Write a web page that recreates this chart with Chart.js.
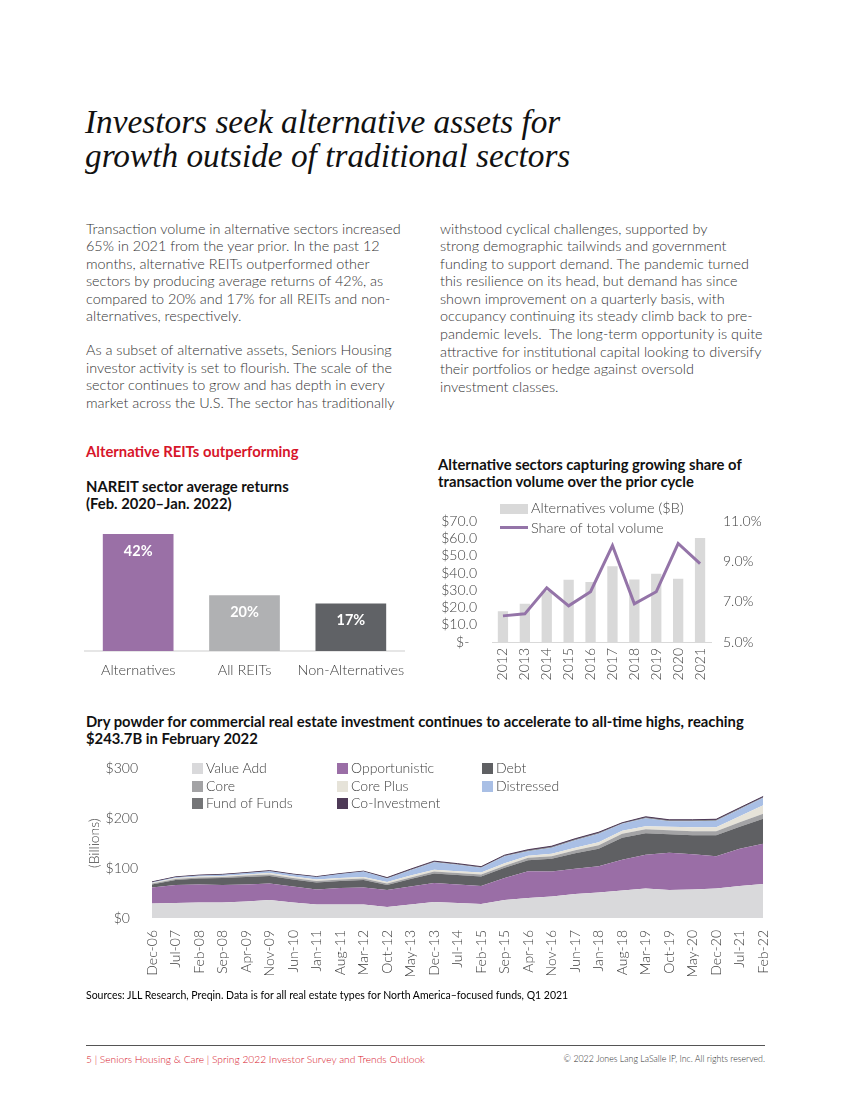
<!DOCTYPE html>
<html><head><meta charset="utf-8">
<script src="https://cdn.jsdelivr.net/npm/chart.js@4.4.1/dist/chart.umd.min.js"></script>
<style>
body{margin:0;background:#fff;}
#page{position:relative;width:850px;height:1100px;overflow:hidden;font-family:Lato,"Open Sans",sans-serif;color:#3a3a3a;background:#fff;}
.abs{position:absolute;white-space:nowrap;}
.title{font-family:"Liberation Serif",serif;font-style:italic;font-size:33.3px;line-height:33.5px;color:#111;}
.body{font-size:14.4px;line-height:17.6px;font-weight:300;color:#333;}
.h{font-weight:700;font-size:14.8px;line-height:17px;color:#111;}
.red{color:#d7152a;}
.leg{position:absolute;white-space:nowrap;font-size:14px;font-weight:300;color:#404040;line-height:17px;}
.box{display:inline-block;width:11px;height:11px;vertical-align:-1px;margin-right:3px;}
canvas{position:absolute;}
</style></head>
<body><div id="page">
<div class="abs title" style="left:85px;top:105px;">Investors seek alternative assets for<br>growth outside of traditional sectors</div>

<div class="abs body" style="left:86px;top:219.5px;">Transaction volume in alternative sectors increased<br>65% in 2021 from the year prior. In the past 12<br>months, alternative REITs outperformed other<br>sectors by producing average returns of 42%, as<br>compared to 20% and 17% for all REITs and non-<br>alternatives, respectively.</div>
<div class="abs body" style="left:86px;top:341.2px;">As a subset of alternative assets, Seniors Housing<br>investor activity is set to flourish. The scale of the<br>sector continues to grow and has depth in every<br>market across the U.S. The sector has traditionally</div>
<div class="abs body" style="left:440px;top:219.5px;">withstood cyclical challenges, supported by<br>strong demographic tailwinds and government<br>funding to support demand. The pandemic turned<br>this resilience on its head, but demand has since<br>shown improvement on a quarterly basis, with<br>occupancy continuing its steady climb back to pre-<br>pandemic levels.&nbsp; The long-term opportunity is quite<br>attractive for institutional capital looking to diversify<br>their portfolios or hedge against oversold<br>investment classes.</div>

<div class="abs h red" style="left:86px;top:442.5px;">Alternative REITs outperforming</div>
<div class="abs h" style="left:86px;top:477.5px;">NAREIT sector average returns<br>(Feb. 2020–Jan. 2022)</div>
<div class="abs h" style="left:438px;top:455.5px;">Alternative sectors capturing growing share of<br>transaction volume over the prior cycle</div>
<div class="abs h" style="left:86px;top:712.5px;">Dry powder for commercial real estate investment continues to accelerate to all-time highs, reaching<br>$243.7B in February 2022</div>

<canvas id="c1" width="330" height="170" style="left:80px;top:520px;width:330px;height:170px;"></canvas>
<canvas id="c2" width="340" height="197" style="left:436px;top:498px;width:340px;height:197px;"></canvas>
<div id="leg2"></div>
<canvas id="c3" width="706" height="244" style="left:86px;top:746px;width:706px;height:244px;"></canvas>
<div id="leg3"></div>

<div class="abs" style="left:86px;top:988px;font-size:10.5px;line-height:14px;color:#000;">Sources: JLL Research, Preqin. Data is for all real estate types for North America–focused funds, Q1 2021</div>
<div class="abs" style="left:86px;top:1045px;width:679px;height:1px;background:#555;"></div>
<div class="abs" style="left:86px;top:1053px;font-size:10.2px;line-height:12px;color:#d7152a;font-weight:300;">5 | Seniors Housing &amp; Care | Spring 2022 Investor Survey and Trends Outlook</div>
<div class="abs" style="right:85px;top:1053px;font-size:8.8px;line-height:12px;color:#333;font-weight:300;">© 2022 Jones Lang LaSalle IP, Inc. All rights reserved.</div>
</div>
<script>
// ---------- data ----------
const barCategories = ['Alternatives', 'All REITs', 'Non-Alternatives'];
const barValues = [42, 20, 17];

const volYears = ['2012','2013','2014','2015','2016','2017','2018','2019','2020','2021'];
const volValues = [17.8, 22.2, 29.4, 36.2, 34.8, 43.9, 36.3, 39.6, 36.7, 60.4];
const shareValues = [6.3, 6.4, 7.7, 6.8, 7.5, 9.8, 6.9, 7.5, 9.9, 8.9];
const volLeftTicks = [0, 10, 20, 30, 40, 50, 60, 70];
const volRightTicks = [5, 7, 9, 11];

const dpLabels = ['Dec-06','Jul-07','Feb-08','Sep-08','Apr-09','Nov-09','Jun-10','Jan-11','Aug-11','Mar-12','Oct-12','May-13','Dec-13','Jul-14','Feb-15','Sep-15','Apr-16','Nov-16','Jun-17','Jan-18','Aug-18','Mar-19','Oct-19','May-20','Dec-20','Jul-21','Feb-22'];
const valueAdd      = [29,30,31,31,33,36,31,27,27,27,22,27,32,30,28,36,40,43,48,51,55,59,56,57,59,64,68];
const opportunistic = [32,36,36,35,34,33,32,30,33,34,34,36,38,37,36,44,54,50,51,53,62,68,75,71,65,75,81];
const debt          = [6,10,12,14,15,15,14,14,14,15,10,15,19,19,19,21,22,26,31,35,44,43,37,38,42,44,50];
const core          = [2,2,2,2,3,3,3,3,3,3,3,3,4,4,4,4,5,5,6,7,8,8,8,8,8,9,10];
const corePlus      = [1.5,2,2,2,2,3,3,3,3,3,3,4,4,4,4,5,4,5,5,6,6,6,7,8,8,12,17];
const distressed    = [1,1.5,2,2.5,3,4,4,5,8,11,7,11,15,13,10,14,9,12,15,17,14,16,11,12,13,14,15];
const fundOfFunds   = [0.5,0.5,0.5,0.5,0.5,0.5,0.5,0.5,0.5,0.5,1,1,1,1,1,1,1.5,1.5,1.5,1.5,1,1.5,1.5,1.5,1.5,1.5,1.2];
const coInvestment  = [0.5,0.5,0.5,0.5,0.5,0.5,0.5,0.5,0.5,0.5,1,1,1,1,1,1,1.5,1.5,1.5,1.5,1,1.5,1.5,1.5,1.5,1.5,1.5];
const dpTicks = [0, 100, 200, 300];

// ---------- setup ----------
Chart.defaults.font.family = 'Lato, "Open Sans", sans-serif';
Chart.defaults.font.size = 14;
Chart.defaults.font.weight = 300;
Chart.defaults.color = '#404040';
Chart.defaults.animation = false;
Chart.defaults.responsive = false;
Chart.defaults.plugins.legend.display = false;
Chart.defaults.plugins.tooltip.enabled = false;

// Bar chart
const barLabelPlugin = {
  id: 'barLabels',
  afterDatasetsDraw(chart) {
    const ctx = chart.ctx;
    const meta = chart.getDatasetMeta(0);
    ctx.save();
    ctx.fillStyle = '#ffffff';
    ctx.font = '700 14.5px Lato, sans-serif';
    ctx.textAlign = 'center';
    ctx.textBaseline = 'middle';
    meta.data.forEach((el, i) => {
      ctx.fillText(chart.data.datasets[0].data[i] + '%', el.x, el.y + 17);
    });
    ctx.restore();
  }
};
new Chart(document.getElementById('c1'), {
  type: 'bar',
  data: { labels: barCategories, datasets: [{
    data: barValues,
    backgroundColor: ['#9a70a6', '#b0b1b3', '#606266'],
    barPercentage: 0.665, categoryPercentage: 1
  }]},
  options: {
    layout: { padding: { left: 5, right: 6, top: 0, bottom: 0 } },
    scales: {
      x: { grid: { display: false, drawTicks: true, tickLength: 11 }, border: { color: '#e6e6e6', width: 2 },
           ticks: { padding: 0, minRotation: 0, maxRotation: 0, autoSkip: false, color: '#404040', font: { size: 14.5, weight: 300 } },
           afterFit(s) { s.height = 39; } },
      y: { display: false, min: 0, max: 47 }
    }
  },
  plugins: [barLabelPlugin]
});

// Combo chart
const combo = new Chart(document.getElementById('c2'), {
  data: { labels: volYears, datasets: [
    { type: 'bar', label: 'Alternatives volume ($B)', data: volValues, yAxisID: 'y',
      backgroundColor: '#d9d9d9', barPercentage: 0.47, categoryPercentage: 1, order: 2 },
    { type: 'line', label: 'Share of total volume', data: shareValues, yAxisID: 'y2',
      borderColor: '#9474a8', borderWidth: 3, pointRadius: 0, tension: 0, order: 1 }
  ]},
  options: {
    layout: { padding: { left: 0, right: 0, top: 0, bottom: 0 } },
    scales: {
      x: { grid: { display: false, drawTicks: false }, border: { color: '#d9d9d9', width: 1 },
           ticks: { minRotation: 90, maxRotation: 90, padding: 6, autoSkip: false, font: { size: 14, weight: 300 } },
           afterFit(s) { s.height = 53; } },
      y: { position: 'left', min: 0, max: 70,
           grid: { display: false, drawTicks: false }, border: { display: false },
           afterBuildTicks(s) { s.ticks = volLeftTicks.map(v => ({ value: v })); },
           ticks: { padding: 15, autoSkip: false, font: { size: 14, weight: 300 },
             callback: v => v === 0 ? '$-  ' : '$' + v.toFixed(1) },
           afterFit(s) { s.width = 56; } },
      y2: { position: 'right', min: 5, max: 11,
           grid: { display: false, drawTicks: false }, border: { display: false },
           afterBuildTicks(s) { s.ticks = volRightTicks.map(v => ({ value: v })); },
           ticks: { padding: 12, autoSkip: false, font: { size: 14, weight: 300 },
             callback: v => v.toFixed(1) + '%' },
           afterFit(s) { s.width = 65; } }
    }
  }
});
(function(){
  const leg = document.getElementById('leg2');
  const ds = combo.data.datasets;
  const tops = [498.5, 518.5];
  ds.forEach((d, i) => {
    const el = document.createElement('div');
    el.className = 'leg';
    el.style.left = '500px';
    el.style.top = tops[i] + 'px';
    el.style.fontSize = '14.5px';
    const sw = d.type === 'bar'
      ? '<span style="display:inline-block;width:28px;height:10px;background:' + d.backgroundColor + ';vertical-align:-1px;margin-right:3px;"></span>'
      : '<span style="display:inline-block;width:28px;height:3px;background:' + d.borderColor + ';vertical-align:4px;margin-right:3px;"></span>';
    el.innerHTML = sw + d.label;
    leg.appendChild(el);
  });
})();

// Stacked area chart
const areaSeries = [
  ['Value Add', valueAdd, '#d9d9db'],
  ['Opportunistic', opportunistic, '#9a6ea6'],
  ['Debt', debt, '#5f6063'],
  ['Core', core, '#a3a3a5'],
  ['Core Plus', corePlus, '#e6e3d9'],
  ['Distressed', distressed, '#a9bfe5'],
  ['Fund of Funds', fundOfFunds, '#747577'],
  ['Co-Investment', coInvestment, '#4e3a57']
];
const area = new Chart(document.getElementById('c3'), {
  type: 'line',
  data: { labels: dpLabels, datasets: areaSeries.map((s, i) => ({
    label: s[0], data: s[1], backgroundColor: s[2], borderColor: s[2],
    borderWidth: i === areaSeries.length - 1 ? 1 : 0,
    fill: i === 0 ? 'origin' : '-1', pointRadius: 0, tension: 0
  }))},
  options: {
    layout: { padding: { left: 0, right: 0, top: 0, bottom: 0 } },
    scales: {
      x: { offset: false, grid: { display: false, drawTicks: false }, border: { display: false },
           ticks: { minRotation: 90, maxRotation: 90, padding: 12, autoSkip: false, font: { size: 14, weight: 300 } },
           afterFit(s) { s.height = 72; } },
      y: { stacked: true, min: 0, max: 300,
           grid: { display: false, drawTicks: false }, border: { display: false },
           afterBuildTicks(s) { s.ticks = dpTicks.map(v => ({ value: v })); },
           ticks: { padding: 14, autoSkip: false, crossAlign: 'center', font: { size: 14, weight: 300 }, callback: v => '$' + v },
           title: { display: true, text: '(Billions)', padding: 0, color: '#404040', font: { size: 14, weight: 300 } },
           afterFit(s) { s.width = 66; } }
    }
  }
});
(function(){
  const leg = document.getElementById('leg3');
  const colX = [192, 337, 482];
  const rowY = [758.5, 776.5, 793.5];
  area.data.datasets.forEach((d, i) => {
    const el = document.createElement('div');
    el.className = 'leg';
    el.style.left = colX[i % 3] + 'px';
    el.style.top = rowY[Math.floor(i / 3)] + 'px';
    el.innerHTML = '<span class="box" style="background:' + d.backgroundColor + '"></span>' + d.label;
    leg.appendChild(el);
  });
})();
</script>
</body></html>
